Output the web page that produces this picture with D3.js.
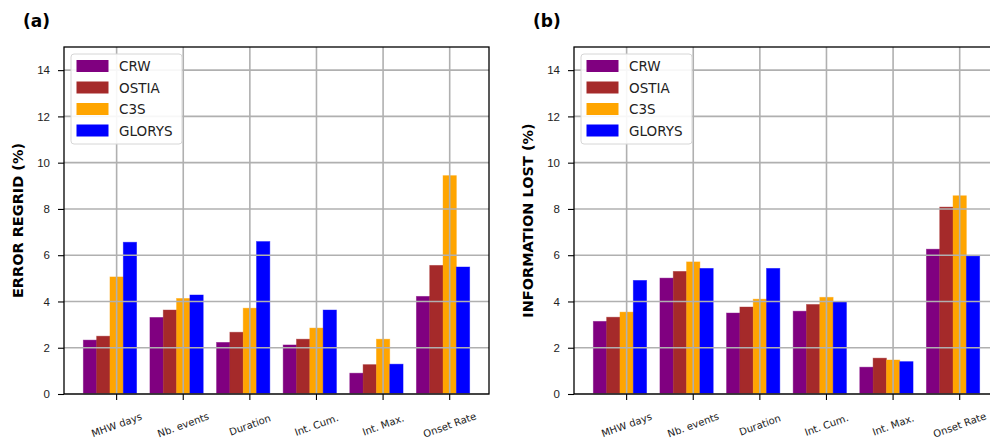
<!DOCTYPE html>
<html>
<head>
<meta charset="utf-8">
<script src="https://cdn.jsdelivr.net/npm/d3@7"></script>
<style>
  body { margin: 0; background: #fff; }
  svg { font-family: "DejaVu Sans", sans-serif; }
</style>
</head>
<body>
<div id="chart"></div>
<script>
var categories = ["MHW days", "Nb. events", "Duration", "Int. Cum.", "Int. Max.", "Onset Rate"];
var products = ["CRW", "OSTIA", "C3S", "GLORYS"];
var colors = ["#800080", "#a52a2a", "#ffa500", "#0000ff"];
var yTicks = [0, 2, 4, 6, 8, 10, 12, 14];

// panel (a) error regrid (%)
var errCRW    = [2.33, 3.31, 2.23, 2.12, 0.90, 4.22];
var errOSTIA  = [2.50, 3.63, 2.67, 2.37, 1.27, 5.56];
var errC3S    = [5.06, 4.13, 3.71, 2.85, 2.37, 9.44];
var errGLORYS = [6.56, 4.28, 6.59, 3.63, 1.29, 5.49];

// panel (b) information lost (%)
var infCRW    = [3.14, 5.01, 3.50, 3.58, 1.16, 6.26];
var infOSTIA  = [3.32, 5.30, 3.76, 3.87, 1.55, 8.08];
var infC3S    = [3.54, 5.71, 4.10, 4.18, 1.47, 8.57];
var infGLORYS = [4.91, 5.43, 5.43, 4.00, 1.40, 5.96];

var svg = d3.select("#chart").append("svg")
  .attr("width", 990).attr("height", 442);

function drawPanel(series, left, tag, ylabel) {
  var width = 425, top = 47, bottom = 394;
  var x = d3.scaleLinear().domain([-0.79, 5.59]).range([left, left + width]);
  var y = d3.scaleLinear().domain([0, 15]).range([bottom, top]);
  var g = svg.append("g");
  var bw = x(0.2) - x(0);

  // bars
  series.forEach(function (vals, s) {
    g.selectAll(null)
      .data(vals)
      .enter()
      .append("rect")
      .attr("x", function (d, i) { return x(i + (s - 2) * 0.2) - bw / 2; })
      .attr("y", function (d) { return y(d); })
      .attr("width", bw)
      .attr("height", function (d) { return y(0) - y(d); })
      .style("fill", colors[s])
      .style("stroke", colors[s])
      .style("stroke-opacity", 0.5)
      .style("stroke-width", 0.8);
  });

  // grid over the bars
  var grid = g.append("g").style("stroke", "#b0b0b0").style("stroke-width", 1.6);
  grid.selectAll(null).data(yTicks).enter().append("line")
    .attr("x1", left).attr("x2", left + width)
    .attr("y1", function (d) { return y(d); })
    .attr("y2", function (d) { return y(d); });
  grid.selectAll(null).data(categories).enter().append("line")
    .attr("y1", top).attr("y2", bottom)
    .attr("x1", function (d, i) { return x(i); })
    .attr("x2", function (d, i) { return x(i); });

  // frame
  g.append("rect")
    .attr("x", left).attr("y", top)
    .attr("width", width).attr("height", bottom - top)
    .style("fill", "none").style("stroke", "#000").style("stroke-width", 1.3);

  // y axis
  var yAxis = d3.axisLeft(y).tickValues(yTicks).tickSize(6).tickPadding(8);
  var ya = g.append("g").attr("transform", "translate(" + left + ",0)").call(yAxis);
  ya.select(".domain").remove();
  ya.selectAll("text").style("font-size", "11.5px").style("fill", "#222");
  ya.selectAll("line").style("stroke-width", 1.1);

  // x axis
  var xa = g.append("g");
  xa.selectAll(null).data(categories).enter().append("line")
    .attr("x1", function (d, i) { return x(i); })
    .attr("x2", function (d, i) { return x(i); })
    .attr("y1", bottom).attr("y2", bottom + 6)
    .style("stroke", "#000").style("stroke-width", 1.1);
  xa.selectAll(null).data(categories).enter().append("text")
    .attr("transform", function (d, i) {
      return "translate(" + x(i) + "," + 425 + ") rotate(-20)";
    })
    .attr("text-anchor", "middle")
    .attr("dominant-baseline", "central")
    .style("font-size", "10px")
    .style("fill", "#222")
    .text(function (d) { return d; });

  // y label
  g.append("text")
    .attr("transform", "translate(" + (left - 46) + "," + ((top + bottom) / 2) + ") rotate(-90)")
    .attr("text-anchor", "middle")
    .attr("dominant-baseline", "central")
    .style("font-size", "14.5px")
    .style("font-weight", "bold")
    .text(ylabel);

  // panel tag
  g.append("text")
    .attr("x", left - 41).attr("y", 27)
    .style("font-size", "17px")
    .style("font-weight", "bold")
    .text(tag);

  // legend
  var lg = g.append("g").attr("transform", "translate(" + (left + 7) + "," + 54 + ")");
  lg.append("rect")
    .attr("width", 111).attr("height", 90)
    .attr("rx", 3)
    .style("fill", "#fff").style("fill-opacity", 0.9)
    .style("stroke", "#d6d6d6").style("stroke-width", 1);
  products.forEach(function (p, s) {
    lg.append("rect")
      .attr("x", 5.5).attr("y", 6 + s * 21.5)
      .attr("width", 32).attr("height", 12)
      .style("fill", colors[s]);
    lg.append("text")
      .attr("x", 48).attr("y", 12 + s * 21.5)
      .attr("dominant-baseline", "central")
      .style("font-size", "13.5px")
      .style("fill", "#222")
      .text(p);
  });
}

drawPanel([errCRW, errOSTIA, errC3S, errGLORYS], 64, "(a)", "ERROR REGRID (%)");
drawPanel([infCRW, infOSTIA, infC3S, infGLORYS], 574, "(b)", "INFORMATION LOST (%)");
</script>
</body>
</html>
